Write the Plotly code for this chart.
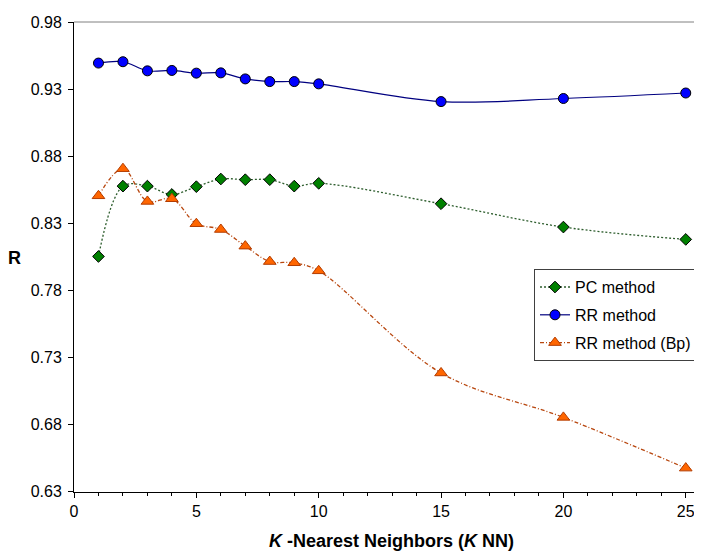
import plotly.graph_objects as go

k_values = [1, 2, 3, 4, 5, 6, 7, 8, 9, 10, 15, 20, 25]
pc_method = [0.8054, 0.8578, 0.8578, 0.8516, 0.8574, 0.8631, 0.8626, 0.8626, 0.8578, 0.8599, 0.8447, 0.8273, 0.8181]
rr_method = [0.9495, 0.9505, 0.9437, 0.9440, 0.9420, 0.9422, 0.9377, 0.9357, 0.9357, 0.9340, 0.9208, 0.9231, 0.9272]
rr_bp = [0.8506, 0.8708, 0.8464, 0.8484, 0.8298, 0.8255, 0.8131, 0.8016, 0.8007, 0.7947, 0.7186, 0.6855, 0.6477]

y_ticks = [0.63, 0.68, 0.73, 0.78, 0.83, 0.88, 0.93, 0.98]
x_ticks = [0, 5, 10, 15, 20, 25]

FONT = "Liberation Sans, Arial, sans-serif"

# page body has an 8px margin; compensate so the figure fills the 702x552 window
OFF = 8
W, H = 702 - OFF, 552 - OFF
L, T = 74 - OFF, 22 - OFF
PLOT_BOTTOM = 491.8 - OFF
B = H - PLOT_BOTTOM
plot_w = W - L
plot_h = PLOT_BOTTOM - T


def px_x(x):
    return (x - OFF - L) / plot_w


def px_y(y):
    return 1 - (y - OFF - T) / plot_h


fig = go.Figure()
fig.add_trace(go.Scatter(
    x=k_values, y=pc_method, name="PC method", legendgroup="a",
    mode="lines+markers",
    line=dict(color="#2E5E2E", width=1.3, dash="2px,2px", shape="spline", smoothing=1),
    marker=dict(symbol="diamond", size=9, color="#008000", line=dict(color="#000000", width=1)),
))
fig.add_trace(go.Scatter(
    x=k_values, y=rr_method, name="RR method", legendgroup="b",
    mode="lines+markers",
    line=dict(color="#000080", width=1.2, shape="spline", smoothing=1),
    marker=dict(symbol="circle", size=10, color="#0000FF", line=dict(color="#000000", width=1)),
))
fig.add_trace(go.Scatter(
    x=k_values, y=rr_bp, name="RR method (Bp)", legendgroup="c",
    mode="lines+markers",
    line=dict(color="#B8470F", width=1.3, dash="4px,2px,1px,2px", shape="spline", smoothing=1),
    marker=dict(symbol="triangle-up", size=11, color="#FF6600", line=dict(color="#B33C00", width=1)),
))

x_max = plot_w / 24.47

fig.update_layout(
    width=W, height=H,
    margin=dict(l=L, r=0, t=T, b=B, pad=0),
    paper_bgcolor="white", plot_bgcolor="white",
    font=dict(family=FONT, size=16, color="black"),
    showlegend=True,
    legend=dict(
        x=px_x(534), y=px_y(269),
        xanchor="left", yanchor="top",
        bgcolor="white", bordercolor="#404040", borderwidth=1,
        font=dict(family=FONT, size=16, color="black"),
        tracegroupgap=4, traceorder="grouped",
    ),
    xaxis=dict(
        range=[0, x_max], tickvals=x_ticks, ticktext=[str(v) for v in x_ticks],
        showgrid=False, zeroline=False,
        showline=True, linecolor="black", linewidth=1,
        ticks="outside", ticklen=5, tickcolor="black", tickwidth=1,
        minor=dict(dtick=1, tick0=0, ticks="outside", ticklen=3, tickcolor="black", showgrid=False),
        tickfont=dict(family=FONT, size=16, color="black"),
    ),
    yaxis=dict(
        range=[0.6299, 0.9801], tickvals=y_ticks, ticktext=["%.2f" % v for v in y_ticks],
        showgrid=False, zeroline=False,
        showline=True, linecolor="black", linewidth=1,
        ticks="outside", ticklen=5, tickcolor="black", tickwidth=1,
        ticklabelstandoff=3,
        tickfont=dict(family=FONT, size=16, color="black"),
    ),
    shapes=[dict(type="line", xref="paper", yref="paper", x0=0, x1=1, y0=1, y1=1,
                 line=dict(color="#808080", width=1))],
    annotations=[
        dict(text="<b>R</b>", xref="paper", yref="paper",
             x=px_x(15), y=px_y(258),
             showarrow=False, xanchor="center", yanchor="middle",
             font=dict(family=FONT, size=18, color="black")),
        dict(text="<b><i>K</i> -Nearest Neighbors (<i>K</i> NN)</b>", xref="paper", yref="paper",
             x=px_x(391), y=px_y(541),
             showarrow=False, xanchor="center", yanchor="middle",
             font=dict(family=FONT, size=18, color="black")),
    ],
)

fig.write_html("out.html")
